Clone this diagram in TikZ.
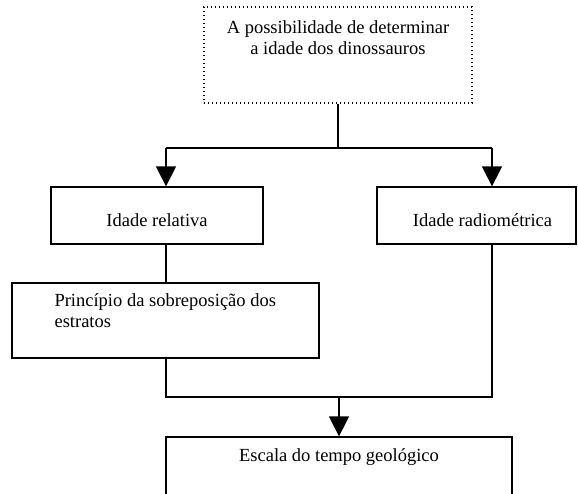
\documentclass[tikz,border=0pt]{standalone}
\usepackage{fontspec}
\setmainfont{Liberation Serif}
\usetikzlibrary{arrows.meta}
\tikzset{
	box/.style={draw, line width=1.3pt, rectangle, inner sep=0pt},
	dotbox/.style={draw, line width=1.2pt, dash pattern=on 1.4pt off 2.6pt, rectangle, inner sep=0pt},
	txt/.style={inner sep=0pt, font=\fontsize{18.5}{21.5}\selectfont},
	conn/.style={line width=1.5pt},
	arr/.style={line width=1.5pt, -{Triangle[length=20pt, width=20pt]}}
}

\begin{document}
\begin{tikzpicture}[x=1pt, y=1pt]
		%%%%% START %%%%%
		\useasboundingbox (0, 0) rectangle (578, -493);
		\clip (0, 0) rectangle (578, -493);
		
		\node[dotbox, minimum width=268, minimum height=96] (possib) at (338, -55) {};
		\node[txt, align=center, anchor=north] (possibT) at ([yshift=-14]possib.north) {A possibilidade de determinar\\a idade dos dinossauros};
		
		\node[box, minimum width=212, minimum height=57] (relat) at (157, -215.5) {};
		\node[txt] (relatT) at ([yshift=-5]relat.center) {Idade relativa};
		
		\node[box, minimum width=199, minimum height=57] (radio) at (476.5, -215.5) {};
		\node[txt] (radioT) at ([xshift=6, yshift=-5]radio.center) {Idade radiométrica};
		
		\node[box, minimum width=307, minimum height=75] (princ) at (165.5, -320.5) {};
		\node[txt, align=left, anchor=north west] (princT) at ([xshift=43, yshift=-11]princ.north west) {Princípio da sobreposição dos\\estratos};
		
		\node[box, minimum width=346, minimum height=83] (escala) at (339, -478.5) {};
		\node[txt] (escalaT) at ([yshift=-21]escala.north) {Escala do tempo geológico};
		
		% split below the top box
		\coordinate (sp) at (338, -148);
		\coordinate (spL) at (166, -148);
		\coordinate (spR) at (492, -148);
		\draw[conn] (possib.south) -- (sp);
		\draw[conn] (spL) -- (spR);
		\draw[arr] (spL) -- (spL |- relat.north);
		\draw[arr] (spR) -- (spR |- radio.north);
		
		\draw[conn] (spL |- relat.south) -- (spL |- princ.north);
		
		% join above the bottom box
		\coordinate (jnL) at (166, -397);
		\coordinate (jnR) at (492, -397);
		\coordinate (jn) at (339, -397);
		\draw[conn] (jnL |- princ.south) -- (jnL) -- (jnR) -- (jnR |- radio.south);
		\draw[arr] (jn) -- (escala.north);
		%%%%% END %%%%%
	\end{tikzpicture}
\end{document}
